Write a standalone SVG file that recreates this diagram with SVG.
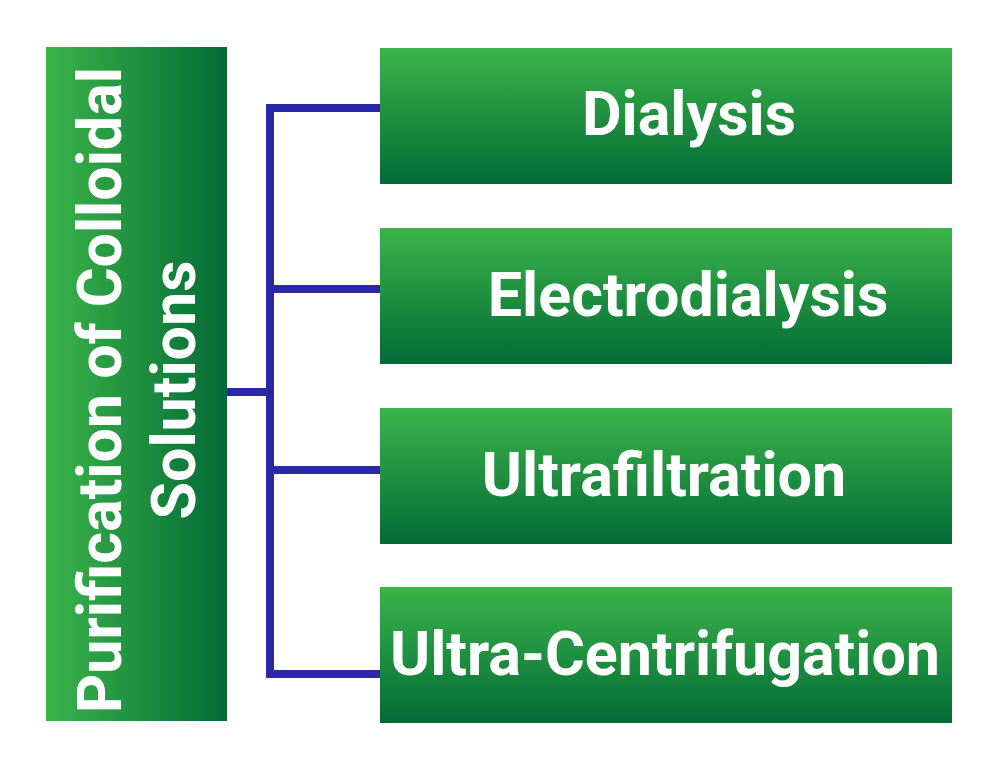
<svg xmlns="http://www.w3.org/2000/svg" width="1000" height="770" viewBox="0 0 1000 770">
<defs>
<linearGradient id="gh" x1="0" y1="0" x2="1" y2="0"><stop offset="0" stop-color="#3bb44a"/><stop offset="1" stop-color="#046b36"/></linearGradient>
<linearGradient id="gv" x1="0" y1="0" x2="0" y2="1"><stop offset="0" stop-color="#3bb44a"/><stop offset="1" stop-color="#046b36"/></linearGradient>
</defs>
<style>
.t{font-family:Roboto,"Liberation Sans",sans-serif;font-weight:bold;font-size:61px;fill:#fff;text-anchor:middle}
.c{fill:none;stroke:#2a27a8;stroke-width:8}
</style>
<rect width="1000" height="770" fill="#fff"/>
<g id="connectors">
<path class="c" d="M380 108 H270 V674 H380"/>
<path class="c" d="M270 289 H380 M270 470 H380 M227 392 H270"/>
</g>
<g id="root">
<rect x="46" y="47" width="181" height="674" fill="url(#gh)"/>
<text class="t" transform="rotate(-90)"><tspan x="-390" y="121">Purification of Colloidal</tspan><tspan x="-390" y="195">Solutions</tspan></text>
</g>
<g id="dialysis">
<rect x="380" y="48" width="572" height="136" fill="url(#gv)"/>
<text class="t" x="689" y="135">Dialysis</text>
</g>
<g id="electrodialysis">
<rect x="380" y="228" width="572" height="136" fill="url(#gv)"/>
<text class="t" x="688" y="316">Electrodialysis</text>
</g>
<g id="ultrafiltration">
<rect x="380" y="408" width="572" height="136" fill="url(#gv)"/>
<text class="t" x="664" y="496">Ultrafiltration</text>
</g>
<g id="ultracentrifugation">
<rect x="380" y="587" width="572" height="136" fill="url(#gv)"/>
<text class="t" x="665" y="675">Ultra-Centrifugation</text>
</g>
</svg>
